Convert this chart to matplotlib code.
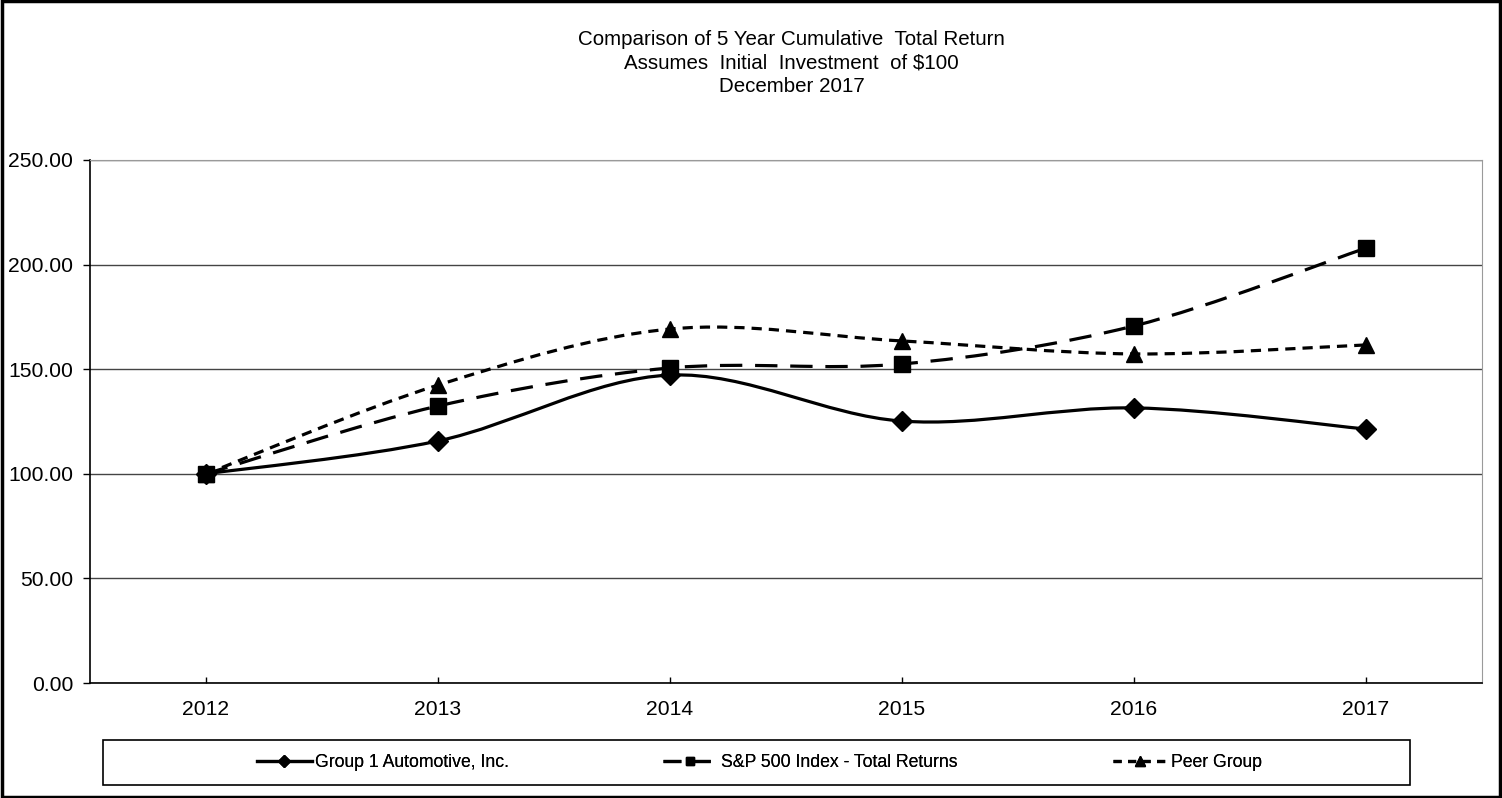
import matplotlib
matplotlib.use("Agg")

import matplotlib.pyplot as plt
from matplotlib.path import Path
from matplotlib.patches import PathPatch, Rectangle
from matplotlib.lines import Line2D
import numpy as np

plt.rcParams["font.family"] = ["Liberation Sans", "DejaVu Sans"]

# Data
years = ["2012", "2013", "2014", "2015", "2016", "2017"]
group1 = [100.00, 115.7, 147.2, 125.2, 131.5, 121.4]
sp500 = [100.00, 132.4, 150.6, 152.5, 170.7, 207.9]
peer = [100.00, 142.4, 169.2, 163.5, 157.3, 161.6]

series_names = ["Group 1 Automotive, Inc.", "S&P 500 Index - Total Returns", "Peer Group"]
title_lines = ["Comparison of 5 Year Cumulative  Total Return",
               "Assumes  Initial  Investment  of $100",
               "December 2017"]


def smooth_path(xs, ys):
    # Excel-style smoothed line: cubic bezier segments through every point
    pts = np.column_stack([xs, ys]).astype(float)
    n = len(pts)
    verts = [pts[0]]
    codes = [Path.MOVETO]
    for i in range(n - 1):
        p_prev = pts[i - 1] if i > 0 else pts[i]
        p_next2 = pts[i + 2] if i + 2 < n else pts[i + 1]
        c1 = pts[i] + (pts[i + 1] - p_prev) / 6.0
        c2 = pts[i + 1] - (p_next2 - pts[i]) / 6.0
        verts += [c1, c2, pts[i + 1]]
        codes += [Path.CURVE4] * 3
    return Path(verts, codes)


fig = plt.figure(figsize=(15.02, 7.98), dpi=100)
ax = fig.add_axes([0.0599, 0.1441, 0.9268, 0.6554])

x = np.arange(len(years))
styles = [
    dict(ls="-", marker="D", ms=10.5, dashes=None),
    dict(ls="--", marker="s", ms=11, dashes=(7, 4)),
    dict(ls="--", marker="^", ms=12, dashes=(3.2, 2.2)),
]
handles = []
for vals, st, name in zip([group1, sp500, peer], styles, series_names):
    patch = PathPatch(smooth_path(x, vals), fill=False, edgecolor="black",
                      lw=2.3, capstyle="butt", zorder=3)
    if st["dashes"] is not None:
        patch.set_linestyle((0, st["dashes"]))
    ax.add_patch(patch)
    ax.plot(x, vals, ls="none", marker=st["marker"], ms=st["ms"],
            color="black", zorder=4)
    h = Line2D([], [], color="black", lw=2.3, marker=st["marker"],
               ms=st["ms"] * 0.55)
    if st["dashes"] is not None:
        h.set_dashes((st["dashes"][0] * 0.8, st["dashes"][1] * 0.9))
    handles.append(h)

ax.set_xlim(-0.5, len(years) - 0.5)
ax.set_ylim(0, 250)
ax.set_xticks(x)
ax.set_xticklabels(years)
ax.set_yticks(np.arange(0, 251, 50))
ax.set_yticklabels(["%.2f" % v for v in np.arange(0, 251, 50)])
ax.tick_params(axis="y", direction="out", length=5, width=1, pad=7, labelsize=15.2)
ax.tick_params(axis="x", direction="in", length=4, width=1, pad=12, labelsize=15.2)
ax.yaxis.grid(True, color="#444444", lw=1)
ax.set_axisbelow(True)
for side in ["top", "right"]:
    ax.spines[side].set_color("#9a9a9a")
for side in ["left", "bottom"]:
    ax.spines[side].set_color("black")
    ax.spines[side].set_linewidth(1.2)

fig.text(0.527, 0.962, "\n".join(title_lines), ha="center", va="top",
         fontsize=14.8, linespacing=1.3)

# Legend box
fig.patches.append(Rectangle((0.0686, 0.0163), 0.870, 0.0564, transform=fig.transFigure,
                             fill=False, edgecolor="black", lw=1.2))
legend_x = [257, 663, 1113]
for h, name, lx in zip(handles, series_names, legend_x):
    leg = fig.legend([h], [name], loc="center left", bbox_to_anchor=(lx / 1502, 0.0445),
                     frameon=False, fontsize=12.7, handlelength=3.1, handletextpad=0.2,
                     borderpad=0, borderaxespad=0, numpoints=1)
    fig.add_artist(leg)

# Outer border
fig.patches.append(Rectangle((0.001, 0.001), 0.998, 0.998, transform=fig.transFigure,
                             fill=False, edgecolor="black", lw=2.5))

plt.savefig("out.png", dpi=100)
